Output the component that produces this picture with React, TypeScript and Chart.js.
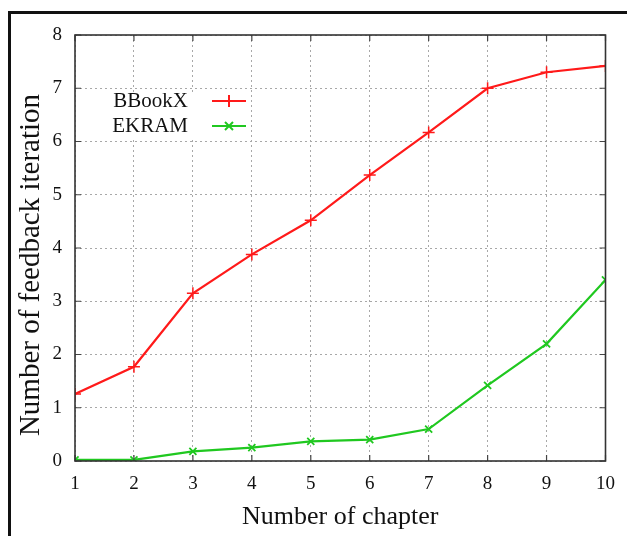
import React, { useEffect, useRef } from "react";
import { Chart, registerables } from "chart.js";

Chart.register(...registerables);

const chapters = [1, 2, 3, 4, 5, 6, 7, 8, 9, 10];
const bbookx = [1.26, 1.77, 3.15, 3.88, 4.52, 5.37, 6.17, 7.0, 7.3, 7.42];
const ekram = [0.02, 0.02, 0.18, 0.25, 0.37, 0.4, 0.6, 1.42, 2.2, 3.4];
const yTicks = [0, 1, 2, 3, 4, 5, 6, 7, 8];
const seriesNames = ["BBookX", "EKRAM"];
const xTitle = "Number of chapter";
const yTitle = "Number of feedback iteration";

const SERIF = "'Liberation Serif', 'DejaVu Serif', serif";
const RED = "#ff1a1a";
const GREEN = "#20c820";
const TEXT = "#111";

const framePlugin = {
  id: "framePlugin",
  afterDatasetsDraw(chart: any) {
    const { ctx, chartArea: a, scales } = chart;
    ctx.save();
    // inner tick marks
    ctx.strokeStyle = "#444";
    ctx.lineWidth = 1.2;
    const tl = 6;
    chapters.forEach((c) => {
      const x = scales.x.getPixelForValue(c);
      ctx.beginPath();
      ctx.moveTo(x, a.bottom);
      ctx.lineTo(x, a.bottom - tl);
      ctx.moveTo(x, a.top);
      ctx.lineTo(x, a.top + tl);
      ctx.stroke();
    });
    yTicks.forEach((v) => {
      const y = scales.y.getPixelForValue(v);
      ctx.beginPath();
      ctx.moveTo(a.left, y);
      ctx.lineTo(a.left + tl, y);
      ctx.moveTo(a.right, y);
      ctx.lineTo(a.right - tl, y);
      ctx.stroke();
    });
    ctx.lineWidth = 1.6;
    ctx.strokeStyle = "#333";
    ctx.strokeRect(a.left, a.top, a.right - a.left, a.bottom - a.top);

    // y axis title
    ctx.save();
    ctx.translate(31, 265);
    ctx.rotate(-Math.PI / 2);
    ctx.font = `29px ${SERIF}`;
    ctx.fillStyle = TEXT;
    ctx.textAlign = "center";
    ctx.textBaseline = "middle";
    ctx.fillText(yTitle, 0, 0);
    ctx.restore();

    // legend
    ctx.fillStyle = "#fff";
    ctx.fillRect(a.left + 25, a.top + 58, 150, 45);
    const items = [
      { name: seriesNames[0], color: RED, style: "cross" },
      { name: seriesNames[1], color: GREEN, style: "crossRot" },
    ];
    ctx.font = `21px ${SERIF}`;
    ctx.textAlign = "right";
    ctx.textBaseline = "middle";
    items.forEach((it, i) => {
      const y = a.top + 66 + i * 25;
      ctx.fillStyle = TEXT;
      ctx.fillText(it.name, a.left + 113, y);
      ctx.strokeStyle = it.color;
      ctx.lineWidth = 2;
      ctx.beginPath();
      ctx.moveTo(a.left + 137, y);
      ctx.lineTo(a.left + 171, y);
      ctx.stroke();
      const mx = a.left + 154;
      ctx.beginPath();
      if (it.style === "cross") {
        ctx.moveTo(mx, y - 6);
        ctx.lineTo(mx, y + 6);
      } else {
        ctx.moveTo(mx - 4, y - 4);
        ctx.lineTo(mx + 4, y + 4);
        ctx.moveTo(mx + 4, y - 4);
        ctx.lineTo(mx - 4, y + 4);
      }
      ctx.stroke();
    });
    ctx.restore();
  },
};

export default function App() {
  const ref = useRef<HTMLCanvasElement>(null);
  useEffect(() => {
    if (!ref.current) return;
    const chart = new Chart(ref.current, {
      type: "line",
      data: {
        labels: chapters,
        datasets: [
          {
            label: seriesNames[0],
            data: bbookx,
            borderColor: RED,
            backgroundColor: RED,
            borderWidth: 2.2,
            pointStyle: "cross",
            pointRadius: 6,
            pointBorderWidth: 1.5,
            tension: 0,
          },
          {
            label: seriesNames[1],
            data: ekram,
            borderColor: GREEN,
            backgroundColor: GREEN,
            borderWidth: 2.2,
            pointStyle: "crossRot",
            pointRadius: 5,
            pointBorderWidth: 1.8,
            tension: 0,
          },
        ],
      },
      options: {
        animation: false,
        responsive: false,
        maintainAspectRatio: false,
        layout: { padding: { top: 35, right: 14, left: 0, bottom: 0 } },
        plugins: {
          legend: { display: false },
          tooltip: { enabled: false },
        },
        scales: {
          x: {
            type: "linear",
            min: 1,
            max: 10,
            afterFit: (s: any) => {
              s.height = 75;
            },
            afterBuildTicks: (s: any) => {
              s.ticks = chapters.map((v) => ({ value: v }));
            },
            grid: {
              color: "#a8a8a8",
              lineWidth: 1,
              drawTicks: false,
            },
            border: { display: false, dash: [2, 3] },
            ticks: {
              padding: 12,
              color: TEXT,
              font: { family: SERIF, size: 19 },
              maxRotation: 0,
            },
            title: {
              display: true,
              text: xTitle,
              color: TEXT,
              font: { family: SERIF, size: 26 },
              padding: { top: 0, bottom: 3 },
            },
          },
          y: {
            min: 0,
            max: 8,
            afterFit: (s: any) => {
              s.width = 75;
            },
            afterBuildTicks: (s: any) => {
              s.ticks = yTicks.map((v) => ({ value: v }));
            },
            grid: {
              color: "#a8a8a8",
              lineWidth: 1,
              drawTicks: false,
            },
            border: { display: false, dash: [2, 3] },
            ticks: {
              padding: 13,
              color: TEXT,
              font: { family: SERIF, size: 19 },
            },
            title: { display: false },
          },
        },
      },
      plugins: [framePlugin],
    } as any);
    return () => chart.destroy();
  }, []);

  return (
    <div style={{ position: "absolute", left: 0, top: 0, width: 627, height: 536, background: "#fff", overflow: "hidden" }}>
      <div
        style={{
          position: "absolute",
          left: 8,
          top: 11,
          width: 700,
          height: 600,
          borderLeft: "3px solid #111",
          borderTop: "3px solid #111",
        }}
      />
      <canvas ref={ref} width={627} height={536} style={{ position: "absolute", left: 0, top: 0 }} />
    </div>
  );
}
